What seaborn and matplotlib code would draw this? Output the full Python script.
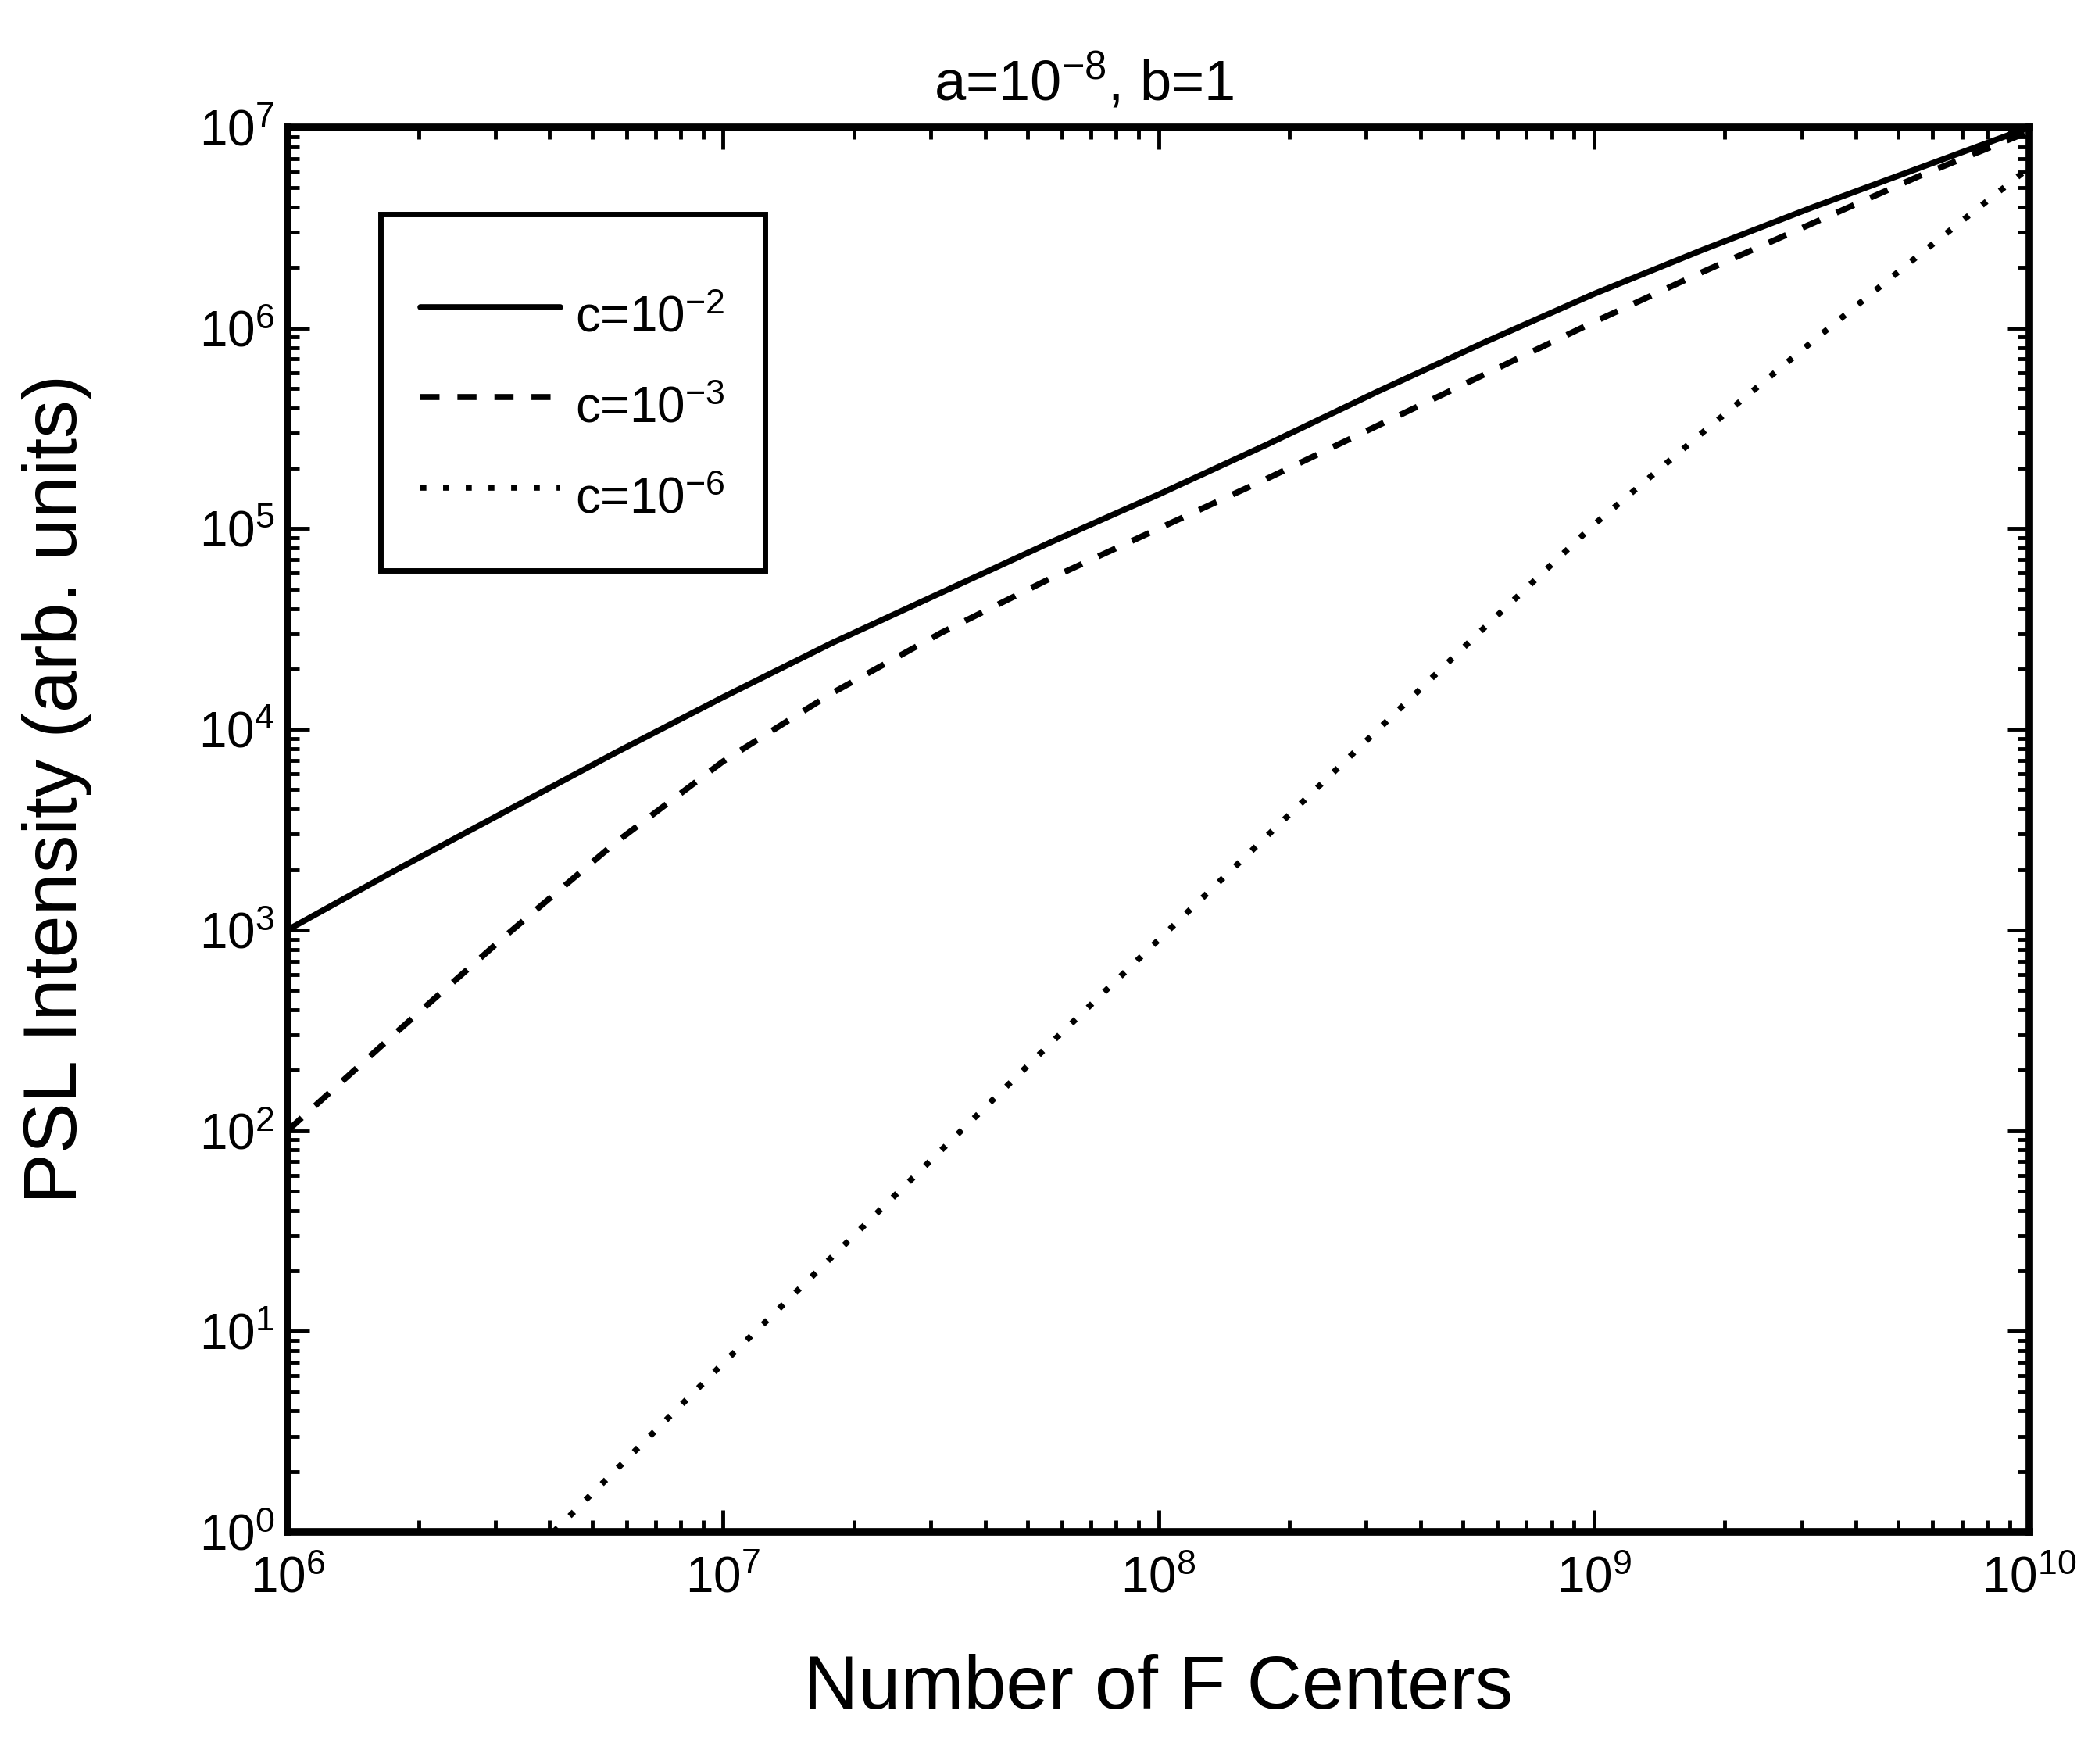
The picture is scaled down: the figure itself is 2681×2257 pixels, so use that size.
import numpy as np
import pandas as pd
import matplotlib
matplotlib.use("Agg")
import matplotlib.pyplot as plt
import matplotlib.ticker as mticker
import seaborn as sns

# ---- data (log10 values) ----
log_n = [6.0, 6.25, 6.5, 6.75, 7.0, 7.25, 7.5, 7.75, 8.0, 8.25, 8.5, 8.75,
         9.0, 9.25, 9.5, 9.75, 10.0]
log_psl_c2 = [3.0, 3.30, 3.59, 3.88, 4.16, 4.43, 4.68, 4.93, 5.17, 5.42, 5.68,
              5.93, 6.17, 6.39, 6.60, 6.80, 7.0]
log_psl_c3 = [2.0, 2.49, 2.97, 3.43, 3.84, 4.18, 4.48, 4.75, 5.00, 5.25, 5.51,
              5.77, 6.03, 6.28, 6.52, 6.76, 6.98]
log_n_c6 = [6.5, 6.75, 7.0, 7.25, 7.5, 7.75, 8.0, 8.25, 8.5, 8.75, 9.0, 9.25,
            9.5, 9.75, 10.0]
log_psl_c6 = [-0.24, 0.30, 0.84, 1.37, 1.90, 2.43, 2.95, 3.47, 3.99, 4.51,
              5.02, 5.48, 5.93, 6.37, 6.80]
labels = [r"c=$10^{-2}$", r"c=$10^{-3}$", r"c=$10^{-6}$"]
title = r"a=$10^{-8}$, b=1"
xlabel = "Number of F Centers"
ylabel = "PSL Intensity (arb. units)"

df = pd.concat([
    pd.DataFrame({"N": 10.0 ** np.array(log_n), "PSL": 10.0 ** np.array(log_psl_c2), "c": labels[0]}),
    pd.DataFrame({"N": 10.0 ** np.array(log_n), "PSL": 10.0 ** np.array(log_psl_c3), "c": labels[1]}),
    pd.DataFrame({"N": 10.0 ** np.array(log_n_c6), "PSL": 10.0 ** np.array(log_psl_c6), "c": labels[2]}),
], ignore_index=True)

sns.set_theme(style="ticks")
plt.rcParams["font.family"] = ["Liberation Sans", "DejaVu Sans"]
plt.rcParams["mathtext.fontset"] = "custom"
plt.rcParams["mathtext.rm"] = "Liberation Sans"
plt.rcParams["mathtext.it"] = "Liberation Sans"
plt.rcParams["mathtext.default"] = "regular"
for k in ["text.color", "axes.labelcolor", "xtick.color", "ytick.color", "axes.edgecolor"]:
    plt.rcParams[k] = "black"

W, H = 2681, 2257
fig = plt.figure(figsize=(W / 100, H / 100), dpi=100)
L, R, T, B = 368, 2597, 163, 1960
ax = fig.add_axes([L / W, 1 - B / H, (R - L) / W, (B - T) / H])

lw = 5.5
sns.lineplot(data=df, x="N", y="PSL", style="c", style_order=labels,
             dashes={labels[0]: "", labels[1]: (3.2, 3.0), labels[2]: (1, 2.8)},
             color="black", linewidth=lw, ax=ax, legend=True, sort=False)

ax.set_xscale("log")
ax.set_yscale("log")
ax.set_xlim(1e6, 1e10)
ax.set_ylim(1e0, 1e7)

ax.xaxis.set_major_locator(mticker.LogLocator(base=10, numticks=20))
ax.yaxis.set_major_locator(mticker.LogLocator(base=10, numticks=20))
ax.xaxis.set_minor_locator(mticker.LogLocator(base=10, subs=np.arange(2, 10), numticks=100))
ax.yaxis.set_minor_locator(mticker.LogLocator(base=10, subs=np.arange(2, 10), numticks=100))
ax.xaxis.set_minor_formatter(mticker.NullFormatter())
ax.yaxis.set_minor_formatter(mticker.NullFormatter())

ax.tick_params(which="both", direction="in", top=True, right=True, colors="black")
ax.tick_params(which="major", length=20, width=3.5, labelsize=46)
ax.tick_params(axis="x", which="major", pad=22)
ax.tick_params(axis="y", which="major", pad=12)
ax.tick_params(which="minor", length=11, width=3.5)
for s in ax.spines.values():
    s.set_linewidth(7)
    s.set_color("black")

ax.set_xlabel(xlabel, fontsize=70)
ax.set_ylabel(ylabel, fontsize=70)
ax.xaxis.set_label_coords(0.5, -0.087)
ax.yaxis.set_label_coords(-0.112, 0.529)
ax.text(0.457, 1.0 + 35 / (B - T), title, transform=ax.transAxes,
        ha="center", va="baseline", fontsize=52)

leg = ax.legend(loc="upper left", bbox_to_anchor=((487 - L) / (R - L), (B - 274) / (B - T)),
                borderaxespad=0, fontsize=46, handlelength=2.8, handletextpad=0.3,
                handleheight=1.72, labelspacing=0.447, borderpad=0.8,
                fancybox=False, framealpha=1, edgecolor="black",
                title=" ", title_fontsize=6)
leg.get_frame().set_linewidth(5)
for line in leg.get_lines():
    line.set_linewidth(lw)

fig.savefig("out.png", dpi=100, facecolor="white")
